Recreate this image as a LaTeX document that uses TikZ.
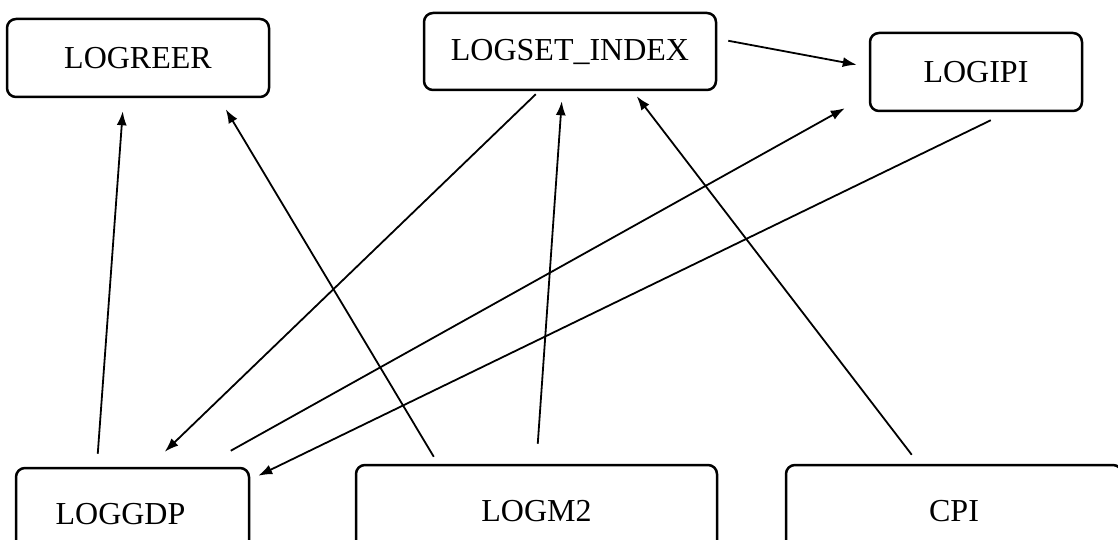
\documentclass[tikz,border=0pt]{standalone}
\usepackage{fontspec}
\setmainfont{Liberation Serif}
\usetikzlibrary{calc,arrows.meta}
\begin{document}
\begin{tikzpicture}[x=1pt,y=-1pt,
  box/.style={draw=black,line width=2.5pt,rounded corners=9pt,inner sep=0pt,
    font=\fontsize{32}{38}\selectfont},
  conn/.style={line width=1.8pt,-{Latex[length=14pt,width=10pt]}}]
\useasboundingbox (0,0) rectangle (1118,540);
\clip (0,0) rectangle (1118,540);
\node[box,minimum width=262pt,minimum height=78pt] (reer) at (138,58) {LOGREER};
\node[box,minimum width=292pt,minimum height=77pt] (set) at (570,51.5) {LOGSET\_INDEX};
\node[box,minimum width=212pt,minimum height=78pt] (ipi) at (976,72) {LOGIPI};
\node[box,minimum width=233pt,minimum height=92pt] (gdp) at (132.5,514) {LOGGDP\hspace*{24pt}};
\node[box,minimum width=361pt,minimum height=92pt] (m2) at (536.5,511) {LOGM2};
\node[box,minimum width=336pt,minimum height=92pt] (cpi) at (954,511) {CPI};
\draw[conn] ($(gdp.north west)+(83,-13)$) -- ($(reer.south west)+(117,13)$);
\draw[conn] ($(m2.north west)+(79,-7)$) -- ($(reer.south west)+(220,11)$);
\draw[conn] ($(set.south west)+(113,3)$) -- ($(gdp.north west)+(150,-15)$);
\draw[conn] ($(gdp.north west)+(216,-16)$) -- ($(ipi.south west)+(-24,-4)$);
\draw[conn] ($(ipi.south west)+(122,8)$) -- ($(gdp.north east)+(8,9)$);
\draw[conn] ($(m2.north west)+(183,-20)$) -- ($(set.south west)+(139,10)$);
\draw[conn] ($(cpi.north west)+(127,-9)$) -- ($(set.south west)+(214,5)$);
\draw[conn] ($(set.north east)+(11,29)$) -- ($(ipi.north west)+(-12,33)$);
\end{tikzpicture}
\end{document}
